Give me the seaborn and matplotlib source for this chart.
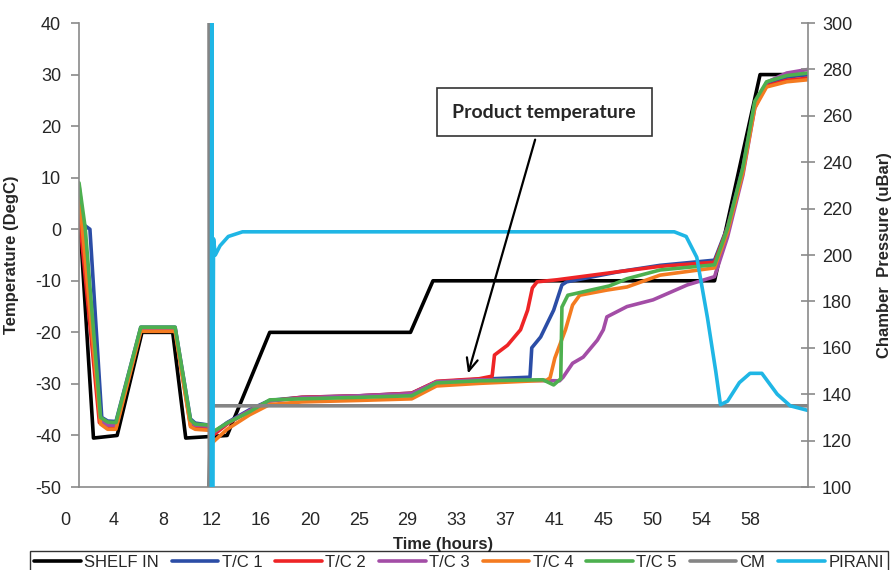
import numpy as np
import matplotlib
matplotlib.use("Agg")
import matplotlib.pyplot as plt
import matplotlib.transforms as mtransforms
import seaborn as sns

# ---- data (hours, DegC / uBar) ----
shelf_t = [1.18, 2.4, 4.4, 6.5, 9.1, 10.2, 13.7, 17.3, 29.2, 31.1, 54.9, 58.75, 62.8]
shelf_v = [4, -40.5, -40, -20, -20, -40.5, -40, -20, -20, -10, -10, 30, 30]

tc1_t = [1.18, 1.5, 2.1, 3.1, 3.6, 4.3, 6.4, 9.3, 10.6, 11.0, 12.2, 12.5, 13.7, 15.6, 17.3,
         20, 25, 29.3, 31.4, 35, 39.3, 39.45, 40.2, 41.3, 42.0, 42.4, 46.9, 50.3, 54.9,
         56.0, 57.3, 58.3, 59.3, 61.0, 62.8]
tc1_v = [6, 1, 0, -36.5, -37.2, -37.3, -19, -19, -36.8, -37.6, -38, -39.5, -37.5, -35, -33.2,
         -32.6, -32.3, -31.8, -29.6, -29.1, -28.7, -23, -20.9, -15.7, -10.8, -10.2, -8.2, -7, -6,
         0.5, 12, 24.5, 28.3, 29.5, 30]

tc2_t = [1.18, 1.4, 2.9, 3.6, 4.3, 6.4, 9.3, 10.6, 11.0, 12.2, 12.5, 13.7, 15.6, 17.3,
         20, 25, 29.3, 31.4, 35, 36.1, 36.3, 37.4, 38.5, 39.1, 39.5, 39.9, 41.6, 46.9, 50.3, 54.9,
         56.0, 57.3, 58.3, 59.3, 61.0, 62.8]
tc2_v = [5, -2, -37.5, -38.5, -38.5, -19.5, -19.5, -38, -38.5, -38.5, -40, -37.8, -35.2, -33.3,
         -32.6, -32.3, -31.8, -29.5, -29.0, -28.5, -24.4, -22.5, -19.5, -15.7, -11.4, -10.2, -9.8,
         -8.2, -7.2, -6.4, 0.3, 11.5, 24, 27.8, 28.9, 29.3]

tc3_t = [1.18, 1.6, 3.0, 3.6, 4.3, 6.4, 9.3, 10.6, 11.0, 12.2, 12.5, 13.7, 15.6, 17.3,
         20, 25, 29.3, 31.4, 35, 41.8, 42.1, 42.9, 43.8, 45.0, 45.5, 45.8, 47.5, 49.7, 52.6, 54.9,
         56.0, 57.3, 58.3, 59.3, 61.0, 62.8]
tc3_v = [8.5, 0, -37, -38, -38, -19.3, -19.3, -37.5, -38, -38.2, -39.5, -37.6, -35.2, -33.3,
         -32.7, -32.3, -31.9, -29.6, -29.2, -29.4, -28.7, -26, -24.8, -21.5, -19.5, -17, -15,
         -13.7, -10.8, -9.2, -1.5, 10.5, 23.5, 28.5, 30.3, 31]

tc4_t = [1.18, 1.5, 3.0, 3.6, 4.3, 6.4, 9.3, 10.6, 11.0, 12.2, 12.5, 13.7, 15.6, 17.3,
         20, 25, 29.3, 31.4, 35, 40.7, 41.0, 41.4, 42.3, 42.9, 43.5, 45.8, 47.5, 50.3, 54.9,
         56.0, 57.3, 58.3, 59.3, 61.0, 62.8]
tc4_v = [7, -1, -37.8, -38.8, -38.8, -19.8, -19.8, -38.3, -38.8, -39, -41.3, -38.8, -36, -34,
         -33.5, -33.2, -32.9, -30.4, -29.9, -29.3, -28.8, -25, -19.5, -14.7, -12.8, -11.8, -11.2,
         -8.9, -7.5, -0.5, 11, 23.5, 27.6, 28.6, 29]

tc5_t = [1.18, 1.7, 3.0, 3.6, 4.3, 6.4, 9.3, 10.6, 11.0, 12.2, 12.5, 13.7, 15.6, 17.3,
         20, 25, 29.3, 31.4, 35, 40.4, 41.3, 41.9, 42.0, 42.5, 46.0, 47.5, 50.3, 54.9,
         56.0, 57.3, 58.3, 59.3, 61.0, 62.8]
tc5_v = [9, 0.3, -36.5, -37.4, -37.5, -19, -19, -37, -37.8, -38, -39.3, -37.6, -35.4, -33.1,
         -32.9, -32.6, -32.3, -29.8, -29.4, -29.2, -30.2, -29, -15.1, -12.8, -11, -9.6, -7.9, -6.9,
         0.2, 12, 24.8, 28.6, 29.8, 30.3]

cm_t = [12.17, 12.19, 12.3, 62.8]
cm_v = [300, 100, 135, 135]

pirani_t = [12.36, 12.40, 12.47, 12.55, 12.7, 13.1, 13.8, 15.0, 51.5, 52.5, 53.4, 54.3, 55.0,
            55.4, 56.0, 57.0, 57.9, 58.9, 60.2, 61.3, 62.8]
pirani_v = [100, 300, 100, 207, 200, 204, 208, 210, 210, 208, 199, 173, 150, 135.5, 137, 145,
            149, 149, 140, 135, 133]

x_labels = ["0", "4", "8", "12", "16", "20", "25", "29", "33", "37", "41", "45", "50", "54", "58"]

temp_series = [
    ("SHELF IN", shelf_t, shelf_v, "#000000"),
    ("T/C 1", tc1_t, tc1_v, "#2B4DA6"),
    ("T/C 2", tc2_t, tc2_v, "#EE2426"),
    ("T/C 3", tc3_t, tc3_v, "#A34DA6"),
    ("T/C 4", tc4_t, tc4_v, "#F47B20"),
    ("T/C 5", tc5_t, tc5_v, "#4DB04F"),
]
press_series = [
    ("CM", cm_t, cm_v, "#858585"),
    ("PIRANI", pirani_t, pirani_v, "#1FB6E5"),
]

sns.set_style("white")
plt.rcParams["font.family"] = ["Liberation Sans", "DejaVu Sans"]
plt.rcParams["axes.unicode_minus"] = False

gray = "#8a8a8a"
fig, ax = plt.subplots(figsize=(8.93, 5.70), dpi=100)
fig.subplots_adjust(left=0.0885, right=0.9048, top=0.9596, bottom=0.1456)
ax2 = ax.twinx()

for name, t, v, c in temp_series:
    sns.lineplot(x=t, y=v, ax=ax, color=c, linewidth=2.6, label=name,
                 estimator=None, sort=False, legend=False)
for name, t, v, c in press_series:
    sns.lineplot(x=t, y=v, ax=ax2, color=c, linewidth=2.6, label=name,
                 estimator=None, sort=False, legend=False)

ax.set_xlim(1.18, 62.8)
ax.set_ylim(-50, 40)
ax2.set_ylim(100, 300)
ax.set_yticks(np.arange(-50, 41, 10))
ax2.set_yticks(np.arange(100, 301, 20))

# tick marks (unlabelled) and the separate label row
ax.set_xticks(np.arange(1.18, 62.0, 3.30))
ax.set_xticklabels([])
trans = mtransforms.blended_transform_factory(ax.transData, ax.transAxes)
for i, lab in enumerate(x_labels):
    ax.text(i * 4.136, -0.073, lab, transform=trans, ha="center", va="center",
            fontsize=13, clip_on=False)

for a in (ax, ax2):
    for s in a.spines.values():
        s.set_color(gray)
        s.set_linewidth(1.2)
    a.spines["top"].set_visible(False)
ax.spines["right"].set_visible(False)
ax2.spines["left"].set_visible(False)
ax2.spines["bottom"].set_visible(False)

ax.tick_params(axis="y", direction="out", length=6, width=1.2, color=gray, labelsize=13, pad=7)
ax.tick_params(axis="x", direction="out", length=6, width=1.2, color=gray)
ax2.tick_params(axis="y", direction="inout", length=10, width=1.2, color=gray, labelsize=13, pad=5)

ax.set_xlabel("Time (hours)", fontsize=12, fontweight="bold")
ax.xaxis.set_label_coords(0.5, -0.108)
ax.set_ylabel("Temperature (DegC)", fontsize=12, fontweight="bold")
ax.yaxis.set_label_coords(-0.083, 0.5)
ax2.set_ylabel("Chamber  Pressure (uBar)", fontsize=12, fontweight="bold")
ax2.yaxis.set_label_coords(1.094, 0.5)

# callout
ax2.text(40.5, 22.7, "Product temperature", transform=ax.transData, ha="center", va="center",
         fontsize=14, fontweight="bold", family=["Lato", "DejaVu Sans"],
         bbox=dict(boxstyle="square,pad=0.8", fc="white", ec="#333333", lw=1.2))
ax2.annotate("", xy=(34.0, -28.5), xycoords=ax.transData, xytext=(39.8, 17.9),
             textcoords=ax.transData,
             arrowprops=dict(arrowstyle="->,head_length=0.9,head_width=0.4", color="black", lw=1.6))

h1, l1 = ax.get_legend_handles_labels()
h2, l2 = ax2.get_legend_handles_labels()
leg = fig.legend(h1 + h2, l1 + l2, loc="upper left", ncol=8, mode="expand",
                 bbox_to_anchor=(30 / 893, 0, 858 / 893, 1 - 551 / 570),
                 prop={"family": ["Liberation Sans Narrow", "Liberation Sans"], "size": 12},
                 frameon=True, fancybox=False, handlelength=2.8,
                 handletextpad=0.2, borderaxespad=0, borderpad=0.25)
leg.get_frame().set_edgecolor("black")
leg.get_frame().set_linewidth(1.0)

fig.savefig("out.png", dpi=100)
